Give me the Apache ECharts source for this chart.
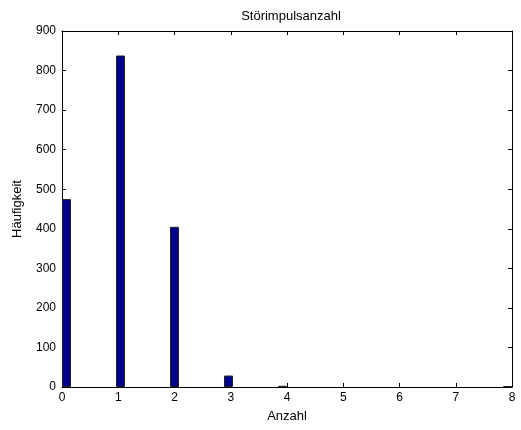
<html>
    <head>
        <meta charset="utf-8">
        <script src="https://cdn.jsdelivr.net/npm/echarts@6/dist/echarts.min.js"></script>
    </head>
    <body>
        <style>
            html, body, #main {
                width: 100%;
                height: 100%;
                margin: 0;
                background: #fff;
            }
        </style>
        <div id="main"></div>
        <script>
            // histogram bins (centers) and their counts
            var binCenters = [0.08, 1.04, 2.0, 2.96, 3.92, 7.92];
            var counts = [475, 838, 405, 29, 3, 2];
            var xTicks = [0, 1, 2, 3, 4, 5, 6, 7, 8];
            var yTicks = [0, 100, 200, 300, 400, 500, 600, 700, 800, 900];

            var chart = echarts.init(document.getElementById('main'));

            var data = binCenters.map(function (c, i) {
                return [c, counts[i]];
            });

            var font = 'Liberation Sans, Arial, sans-serif';
            var axisBase = {
                type: 'value',
                axisLine: { show: true, onZero: false, lineStyle: { color: '#000', width: 1 } },
                axisTick: { show: true, inside: true, length: 4, lineStyle: { color: '#000' } },
                splitLine: { show: false }
            };

            chart.setOption({
                backgroundColor: '#fff',
                animation: false,
                title: {
                    text: 'Störimpulsanzahl',
                    left: 286,
                    textAlign: 'center',
                    top: 5,
                    textStyle: { fontFamily: font, fontSize: 13, fontWeight: 'normal', color: '#000' }
                },
                grid: {
                    left: 62,
                    right: 9,
                    top: 31,
                    bottom: 43
                },
                xAxis: [
                    Object.assign({}, axisBase, {
                        min: xTicks[0],
                        max: xTicks[xTicks.length - 1],
                        interval: 1,
                        position: 'bottom',
                        name: 'Anzahl',
                        nameLocation: 'middle',
                        nameGap: 23,
                        nameTextStyle: { fontFamily: font, fontSize: 13, color: '#000' },
                        axisLabel: { fontFamily: font, fontSize: 12, color: '#000', margin: 5 }
                    }),
                    Object.assign({}, axisBase, {
                        min: xTicks[0],
                        max: xTicks[xTicks.length - 1],
                        interval: 1,
                        position: 'top',
                        axisLabel: { show: false }
                    })
                ],
                yAxis: [
                    Object.assign({}, axisBase, {
                        min: yTicks[0],
                        max: yTicks[yTicks.length - 1],
                        interval: 100,
                        position: 'left',
                        name: 'Häufigkeit',
                        nameLocation: 'middle',
                        nameGap: 38,
                        nameTextStyle: { fontFamily: font, fontSize: 13, color: '#000' },
                        axisLabel: { fontFamily: font, fontSize: 12, color: '#000', margin: 6 }
                    }),
                    Object.assign({}, axisBase, {
                        min: yTicks[0],
                        max: yTicks[yTicks.length - 1],
                        interval: 100,
                        position: 'right',
                        axisLabel: { show: false }
                    })
                ],
                series: [
                    {
                        type: 'bar',
                        data: data,
                        barWidth: 9,
                        itemStyle: {
                            color: '#00008c',
                            borderColor: '#222',
                            borderWidth: 1
                        }
                    }
                ]
            });
        </script>
    </body>
</html>
